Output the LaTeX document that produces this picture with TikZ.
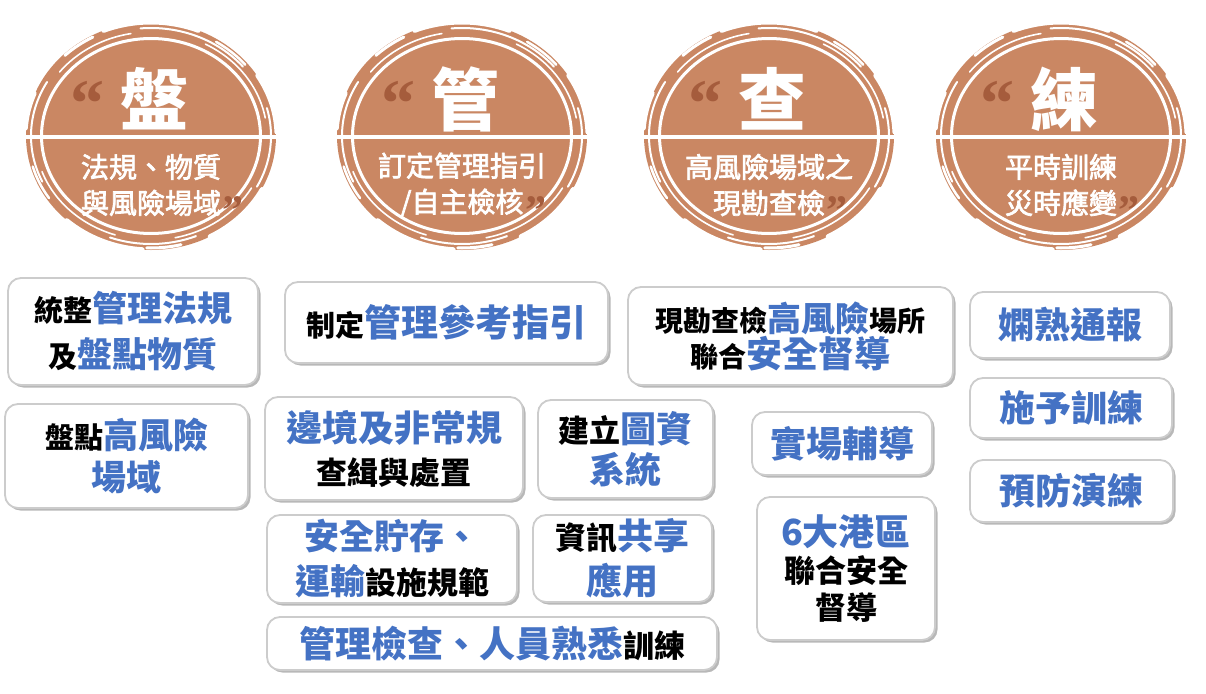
\documentclass[tikz,border=0pt]{standalone}
\usepackage{fontspec}
\setmainfont{Noto Sans CJK TC}
\newfontfamily\quotefont{Liberation Serif}
\newfontfamily\subfont{Noto Sans CJK TC}[FakeBold=2.5]
\usetikzlibrary{shadows}
\definecolor{disc}{HTML}{CA8763}
\definecolor{qbrown}{HTML}{A55C3C}
\definecolor{tblue}{HTML}{4472C4}
\definecolor{frame}{HTML}{CCCCCC}
\newcommand\blu[2]{{\color{tblue}\fontsize{#1}{\the\baselineskip}\selectfont#2}}
\newcommand\blk[2]{{\color{black}\fontsize{#1}{\the\baselineskip}\selectfont#2}}
\tikzset{
  infobox/.style={draw=frame, line width=1.8pt, fill=white, rounded corners=13pt,
    drop shadow={shadow xshift=2.5pt, shadow yshift=-2.5pt, opacity=0.28, fill=black},
    align=center, inner sep=0pt, text=black},
  bigchar/.style={text=white, font=\bfseries\fontsize{68}{68}\selectfont, inner sep=0pt},
  subtitle/.style={text=white, align=center, inner sep=0pt, font=\subfont\fontsize{28}{36}\selectfont},
  openq/.style={text=qbrown, anchor=base, inner sep=0pt, font=\quotefont\bfseries\fontsize{68}{68}\selectfont},
  closeq/.style={text=qbrown, anchor=base west, inner sep=0pt, font=\quotefont\bfseries\fontsize{42}{42}\selectfont},
}
\newcommand\ringarc[5]{% cx-local: d, width, start, end, colour
  \pgfmathsetmacro\myrx{106+#1}\pgfmathsetmacro\myry{94+#1}
  \draw[#5, line width=#2pt, line cap=round] (0,136) ++(#3:\myrx pt and \myry pt)
    arc[start angle=#3, end angle=#4, x radius=\myrx pt, y radius=\myry pt];}
\newcommand\sealdisc[6]{%
  \begin{scope}[shift={(#1,0)}]
    % brush band
    \fill[disc] (0,136) ellipse[x radius=125pt, y radius=114pt];
    \foreach \d/\w/\a/\b in {9/7/-15/12, 10/8/168/195}{\ringarc{\d}{\w}{\a}{\b}{disc}}
    % white streaks in the band
    \foreach \d/\w/\a/\b in {
        3.5/3/0/360,
        10/1.6/10/62, 10/1.6/100/142, 10/1.6/200/252, 10/1.6/282/330,
        14/2/40/95, 14/2/150/205, 14/2/250/292, 14/2/332/375,
        20/5/2/32, 20/5/68/112, 20/5/158/176, 20/5/228/266, 20/5/298/332,
        18/3/118/134, 18/3/268/284, 17/2.5/196/214, 17/2.5/40/58}{
      \ringarc{\d}{\w}{\a}{\b}{white}}
    \fill[disc] (0,136) ellipse[x radius=106pt, y radius=94pt];
    \draw[white, line width=4pt] (-127,137) -- (127,137);
    \node[openq] (#2q1) at (-64,126) {“};
    \node[bigchar] (#2big) at (3,99) {#3};
    \node[closeq] (#2q2) at (#6,224) {”};
    \node[subtitle] (#2sub) at (0,185) {#4\\#5};
  \end{scope}}
\begin{document}
\begin{tikzpicture}[x=1pt,y=-1pt]
\useasboundingbox[fill=white] (0,0) rectangle (1206,693);

\sealdisc{151}{pan}{盤}{法規、物質}{與風險場域}{71}
\sealdisc{462}{guan}{管}{訂定管理指引}{/自主檢核}{63}
\sealdisc{769}{cha}{查}{高風險場域之}{現勘查檢}{57}
\sealdisc{1061}{lian}{練}{平時訓練}{災時應變}{57}

% column 1
\node[infobox, minimum width=250pt, minimum height=107pt, font=\bfseries\fontsize{29}{46}\selectfont]
  (b1) at (133,331.5) {\blk{29}{統整}\blu{35}{管理法規}\\\blk{29}{及}\blu{35}{盤點物質}};
\node[infobox, minimum width=243pt, minimum height=104pt, font=\bfseries\fontsize{29}{42}\selectfont]
  (b2) at (126.5,456) {\blk{29}{盤點}\blu{35}{高風險}\\\blu{35}{場域}};

% column 2
\node[infobox, minimum width=323pt, minimum height=81pt, font=\bfseries\fontsize{29}{42}\selectfont]
  (b3) at (446.5,322.5) {\blk{29}{制定}\blu{37}{管理參考指引}};
\node[infobox, minimum width=258pt, minimum height=103pt, font=\bfseries\fontsize{31}{43}\selectfont]
  (b4) at (394,448.5) {\blu{36}{邊境及非常規}\\\blk{31}{查緝與處置}};
\node[infobox, minimum width=175pt, minimum height=98pt, font=\bfseries\fontsize{31}{41}\selectfont]
  (b5) at (625.5,449) {\blk{31}{建立}\blu{36}{圖資}\\\blu{36}{系統}};
\node[infobox, minimum width=250pt, minimum height=88pt, font=\bfseries\fontsize{31}{45}\selectfont]
  (b6) at (392,559) {\blu{35}{安全貯存、}\\\blu{35}{運輸}\blk{31}{設施規範}};
\node[infobox, minimum width=179pt, minimum height=87pt, font=\bfseries\fontsize{31}{45}\selectfont]
  (b7) at (622.5,558.5) {\blk{31}{資訊}\blu{36}{共享}\\\blu{36}{應用}};
\node[infobox, minimum width=450pt, minimum height=53pt, font=\bfseries\fontsize{31}{42}\selectfont]
  (b8) at (492,643.5) {\blu{36}{管理檢查、人員熟悉}\blk{31}{訓練}};

% column 3
\node[infobox, minimum width=325pt, minimum height=98pt, font=\bfseries\fontsize{28}{36}\selectfont]
  (b9) at (790.5,336) {\blk{28}{現勘查檢}\blu{34}{高風險}\blk{28}{場所}\\\blk{28}{聯合}\blu{36}{安全督導}};
\node[infobox, minimum width=180pt, minimum height=63pt, font=\bfseries\fontsize{36}{42}\selectfont]
  (b10) at (842,443.5) {\blu{36}{實場輔導}};
\node[infobox, minimum width=178pt, minimum height=143pt, font=\bfseries\fontsize{31}{37}\selectfont]
  (b11) at (846,568.5) {\blu{36}{6大港區}\\\blk{31}{聯合安全}\\\blk{31}{督導}};

% column 4
\node[infobox, minimum width=200pt, minimum height=66pt, font=\bfseries\fontsize{36}{42}\selectfont]
  (b12) at (1070,325) {\blu{36}{嫻熟通報}};
\node[infobox, minimum width=202pt, minimum height=60pt, font=\bfseries\fontsize{36}{42}\selectfont]
  (b13) at (1071,408) {\blu{36}{施予訓練}};
\node[infobox, minimum width=203pt, minimum height=62pt, font=\bfseries\fontsize{36}{42}\selectfont]
  (b14) at (1071.5,491) {\blu{36}{預防演練}};
\end{tikzpicture}
\end{document}
